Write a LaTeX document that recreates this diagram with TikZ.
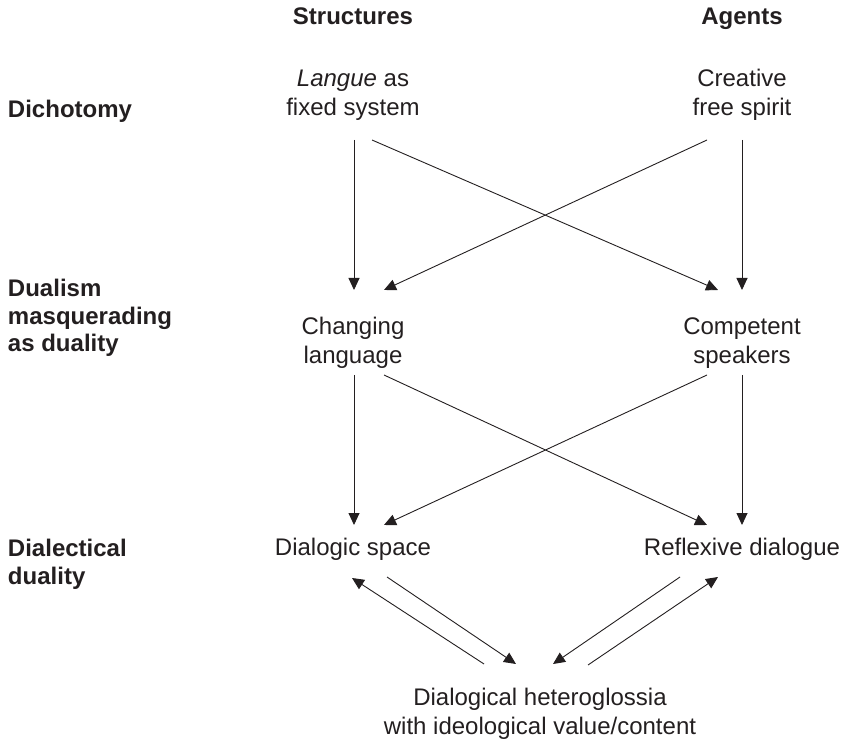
\documentclass[tikz,border=0pt]{standalone}
\usepackage{fontspec}
\setmainfont{Liberation Sans}
\usetikzlibrary{arrows.meta}
\definecolor{ink}{HTML}{231F20}
\begin{document}
\begin{tikzpicture}[x=1pt,y=-1pt,
  every node/.style={inner sep=0pt,outer sep=0pt,text=ink,
    font=\fontsize{24}{29}\selectfont},
  item/.style={anchor=base,align=center},
  head/.style={anchor=base,align=center,font=\fontsize{24}{29}\selectfont\bfseries},
  level/.style={anchor=base west,align=left,font=\fontsize{24}{27.5}\selectfont\bfseries},
  arr/.style={draw=ink,line width=0.9pt,-{Triangle[length=12pt,width=11pt]}}]
\useasboundingbox (0,0) rectangle (844,743);

% column headings
\node[head] (struct) at (353,25) {Structures};
\node[head] (agents) at (742,25) {Agents};

% row labels (anchored on the baseline of their last line)
\node[level] (dicho) at (8,118) {Dichotomy};
\node[level] (dual) at (8,352) {Dualism\\masquerading\\as duality};
\node[level] (dialect) at (8,584) {Dialectical\\duality};

% concepts (anchored on the baseline of their last line)
\node[item] (langue) at (353,116) {\textit{Langue} as\\fixed system};
\node[item] (creative) at (742,116) {Creative\\free spirit};
\node[item] (changing) at (353,364) {Changing\\language};
\node[item] (competent) at (742,364) {Competent\\speakers};
\node[item] (dspace) at (353,555) {Dialogic space};
\node[item] (reflexive) at (742,555) {Reflexive dialogue};
\node[item] (hetero) at (540,734) {Dialogical heteroglossia\\with ideological value/content};

% dichotomy -> dualism
\draw[arr] ([shift={(1,24)}]langue.base) -- ([shift={(1,-74)}]changing.base);
\draw[arr] ([shift={(19,24)}]langue.base) -- ([shift={(-24,-74)}]competent.base);
\draw[arr] ([shift={(-35,24)}]creative.base) -- ([shift={(31,-74)}]changing.base);
\draw[arr] ([shift={(0,24)}]creative.base) -- ([shift={(0,-74)}]competent.base);

% dualism -> dialectical duality
\draw[arr] ([shift={(1,11)}]changing.base) -- ([shift={(1,-30)}]dspace.base);
\draw[arr] ([shift={(31,11)}]changing.base) -- ([shift={(-35,-30)}]reflexive.base);
\draw[arr] ([shift={(-35,11)}]competent.base) -- ([shift={(31,-30)}]dspace.base);
\draw[arr] ([shift={(0,11)}]competent.base) -- ([shift={(0,-30)}]reflexive.base);

% exchange with heteroglossia
\draw[arr] ([shift={(-56,-70)}]hetero.base) -- ([shift={(-1,23)}]dspace.base);
\draw[arr] ([shift={(34,22)}]dspace.base) -- ([shift={(-24,-70)}]hetero.base);
\draw[arr] ([shift={(-62,22)}]reflexive.base) -- ([shift={(13,-70)}]hetero.base);
\draw[arr] ([shift={(48,-69)}]hetero.base) -- ([shift={(-24,22)}]reflexive.base);
\end{tikzpicture}
\end{document}
